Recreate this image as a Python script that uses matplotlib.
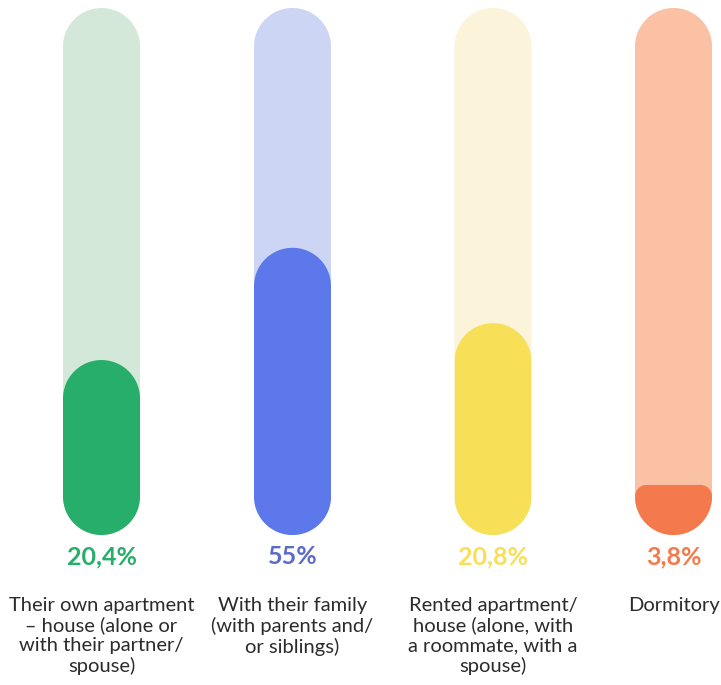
import matplotlib
matplotlib.use("Agg")
import numpy as np
import matplotlib.pyplot as plt
from matplotlib.path import Path
from matplotlib.patches import PathPatch

# values as printed, and the fill level of each pill
labels = ["Their own apartment\n– house (alone or\nwith their partner/\nspouse)",
          "With their family\n(with parents and/\nor siblings)",
          "Rented apartment/\nhouse (alone, with\na roommate, with a\nspouse)",
          "Dormitory"]
values = ["20,4%", "55%", "20,8%", "3,8%"]
fill_share = [0.332, 0.545, 0.402, 0.095]

FILL = ["#27ae6a", "#5c78ea", "#f7df58", "#f4794c"]
TRACK = ["#d4e8da", "#cdd5f5", "#fbf4da", "#fbc1a4"]
VALUE_INK = ["#27ae6a", "#5b6cc8", "#f7df58", "#f4794c"]
INK = "#2b2b2b"

# layout in pixels (figure is 721x685 at dpi 100)
CENTERS = [101.5, 292.5, 493, 673.5]
W, TOP, BOTTOM = 77, 8, 535
R = W / 2


def rounded_rect(x0, y0, w, h, r):
    """Closed path of a rectangle with circular corners of radius r (y grows down)."""
    pts = []
    corners = [(x0 + w - r, y0 + r, 270, 360), (x0 + w - r, y0 + h - r, 0, 90),
               (x0 + r, y0 + h - r, 90, 180), (x0 + r, y0 + r, 180, 270)]
    for cx, cy, a0, a1 in corners:
        t = np.radians(np.linspace(a0, a1, 40))
        pts += list(zip(cx + r * np.cos(t), cy + r * np.sin(t)))
    pts.append(pts[0])
    codes = [Path.MOVETO] + [Path.LINETO] * (len(pts) - 2) + [Path.CLOSEPOLY]
    return Path(pts, codes)


plt.rcParams["font.family"] = ["Lato", "DejaVu Sans"]
fig = plt.figure(figsize=(7.21, 6.85), dpi=100, facecolor="white")
ax = fig.add_axes([0, 0, 1, 1])
ax.set_xlim(0, 721)
ax.set_ylim(685, 0)
ax.axis("off")

H = BOTTOM - TOP
for i, cx in enumerate(CENTERS):
    x0 = cx - R
    track = PathPatch(rounded_rect(x0, TOP, W, H, R), fc=TRACK[i], ec="none")
    ax.add_patch(track)

    h = fill_share[i] * H
    r = min(R, max(h - R, 2))
    fill = PathPatch(rounded_rect(x0, BOTTOM - h, W, h + 60, r), fc=FILL[i], ec="none")
    ax.add_patch(fill)
    fill.set_clip_path(track)

    ax.text(cx, 557, values[i], ha="center", va="center", fontsize=18,
            fontweight="bold", color=VALUE_INK[i])
    ax.text(cx, 597, labels[i], ha="center", va="top", fontsize=14.5,
            color=INK, linespacing=1.18)

fig.savefig("out.png", dpi=100, facecolor="white")
